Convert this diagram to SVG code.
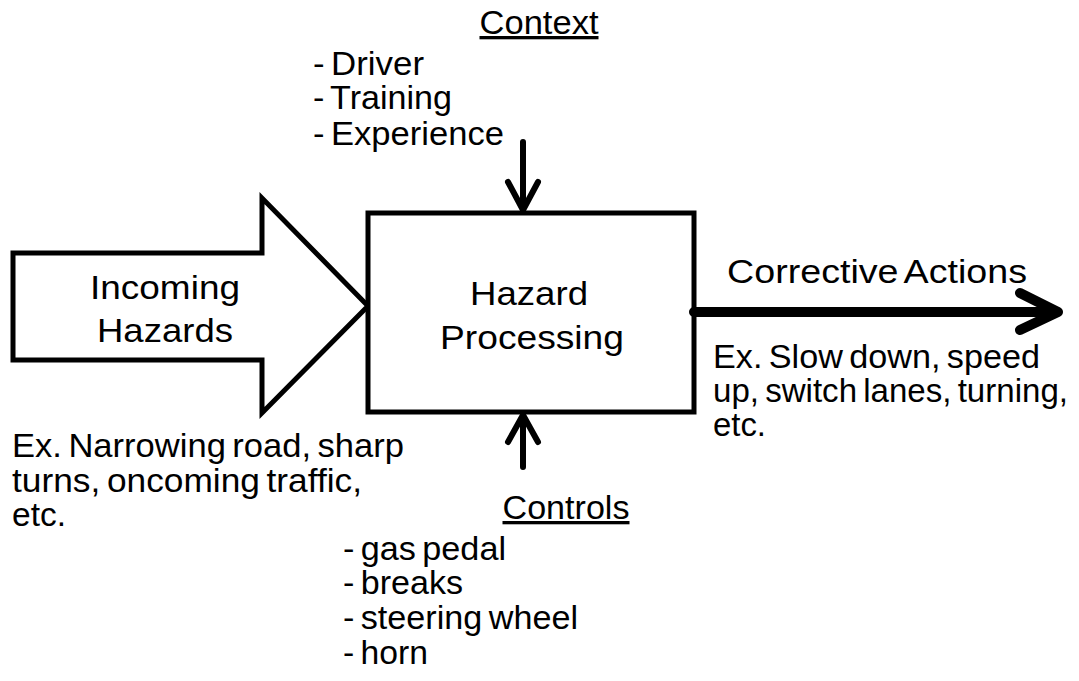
<svg xmlns="http://www.w3.org/2000/svg" width="1079" height="681" viewBox="0 0 1079 681">
<style>
text{font-family:"Liberation Sans",Arial,sans-serif;font-size:33px;fill:#000;word-spacing:-3px}
.c{text-anchor:middle}
.u{text-decoration:underline}
.shape{fill:#fff;stroke:#000;stroke-width:5;stroke-linejoin:miter}
.conn{fill:none;stroke:#000;stroke-linecap:round;stroke-linejoin:round}
</style>
<rect width="1079" height="681" fill="#fff"/>
<g id="incoming-hazards">
<polygon class="shape" points="13,253 262,253 262,198 368,306 262,413 262,360 13,360"/>
<text class="c" x="165" y="299" textLength="150" lengthAdjust="spacingAndGlyphs">Incoming</text>
<text class="c" x="165" y="342" textLength="136" lengthAdjust="spacingAndGlyphs">Hazards</text>
</g>
<g id="hazard-processing">
<rect class="shape" x="368" y="213" width="326" height="199"/>
<text class="c" x="529" y="305" textLength="118" lengthAdjust="spacingAndGlyphs">Hazard</text>
<text class="c" x="532" y="349" textLength="184" lengthAdjust="spacingAndGlyphs">Processing</text>
</g>
<g id="connectors">
<path class="conn" stroke-width="6" d="M523,142 V210 M508,182 L523,210 L538,182"/>
<path class="conn" stroke-width="6" d="M523,467 V415 M508,442 L523,415 L538,442"/>
<path class="conn" stroke-width="10" d="M694,312 H1058 M1020,293 L1058,312 L1020,330"/>
</g>
<g id="context">
<text class="c u" x="539" y="34" textLength="119" lengthAdjust="spacingAndGlyphs">Context</text>
<text x="313" y="75" textLength="111" lengthAdjust="spacingAndGlyphs">- Driver</text>
<text x="313" y="109" textLength="139" lengthAdjust="spacingAndGlyphs">- Training</text>
<text x="313" y="145" textLength="191" lengthAdjust="spacingAndGlyphs">- Experience</text>
</g>
<g id="controls">
<text class="c u" x="566" y="519" textLength="127" lengthAdjust="spacingAndGlyphs">Controls</text>
<text x="343" y="560" textLength="163" lengthAdjust="spacingAndGlyphs">- gas pedal</text>
<text x="343" y="594" textLength="120" lengthAdjust="spacingAndGlyphs">- breaks</text>
<text x="343" y="629" textLength="235" lengthAdjust="spacingAndGlyphs">- steering wheel</text>
<text x="343" y="664" textLength="85" lengthAdjust="spacingAndGlyphs">- horn</text>
</g>
<g id="incoming-examples">
<text x="12" y="457" textLength="392" lengthAdjust="spacingAndGlyphs">Ex. Narrowing road, sharp</text>
<text x="12" y="492" textLength="350" lengthAdjust="spacingAndGlyphs">turns, oncoming traffic,</text>
<text x="12" y="526" textLength="54" lengthAdjust="spacingAndGlyphs">etc.</text>
</g>
<g id="corrective-actions">
<text x="727" y="283" textLength="300" lengthAdjust="spacingAndGlyphs">Corrective Actions</text>
<text x="713" y="368" textLength="327" lengthAdjust="spacingAndGlyphs">Ex. Slow down, speed</text>
<text x="713" y="402" textLength="355" lengthAdjust="spacingAndGlyphs">up, switch lanes, turning,</text>
<text x="713" y="436" textLength="53" lengthAdjust="spacingAndGlyphs">etc.</text>
</g>
</svg>
